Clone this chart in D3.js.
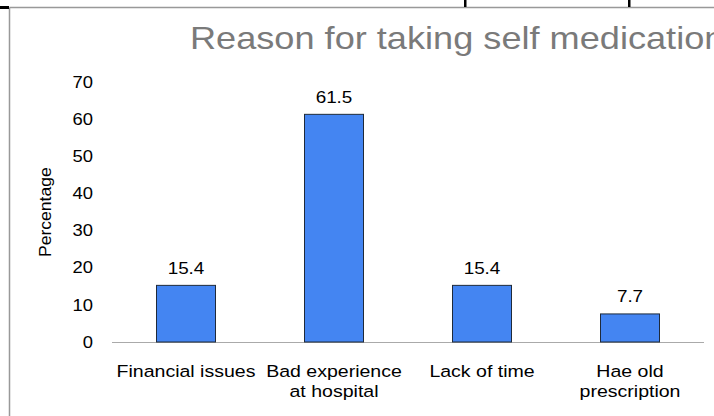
<!DOCTYPE html>
<html>
<head>
<meta charset="utf-8">
<script src="https://cdn.jsdelivr.net/npm/d3@7"></script>
<style>
  html, body { margin: 0; padding: 0; background: #fff; }
  svg { display: block; font-family: "Liberation Sans", Arial, sans-serif; }
</style>
</head>
<body>
<svg id="chart" width="714" height="416"></svg>
<script>
// Reasons given for self medication, percentage of respondents
const categories = ["Financial issues", "Bad experience|at hospital", "Lack of time", "Hae old|prescription"];
const values = [15.4, 61.5, 15.4, 7.7];
const yTicks = [0, 10, 20, 30, 40, 50, 60, 70];

const svg = d3.select("#chart");
const W = 714, H = 416;
const plot = { left: 112, right: 704, top: 82.3, bottom: 342 };
const SX = 1.15; // wide letterforms

// Text placed at (x, y) with its glyphs widened horizontally
function wideText(parent, x, y, str, size, anchor, fill, sx) {
  return parent.append("text")
    .attr("transform", `translate(${x},${y}) scale(${sx || SX},1)`)
    .attr("text-anchor", anchor).attr("font-size", size).attr("fill", fill || "#000")
    .text(str);
}

// Frame lines
svg.append("line").attr("x1", 9.5).attr("x2", W).attr("y1", 7.5).attr("y2", 7.5)
  .attr("stroke", "#999").attr("stroke-width", 1.5);
svg.append("line").attr("x1", 9.5).attr("x2", 9.5).attr("y1", 7.5).attr("y2", H)
  .attr("stroke", "#999").attr("stroke-width", 1.5);
svg.append("rect").attr("x", 0).attr("y", 6).attr("width", 9).attr("height", 3).attr("fill", "#000");
[465, 629].forEach(x => {
  svg.append("rect").attr("x", x - 1).attr("y", 0).attr("width", 2.5).attr("height", 7).attr("fill", "#000");
});

// Title
wideText(svg, 190, 49, "Reason for taking self medication", 32, "start", "#7a7a7a", 1.13);

const x = d3.scaleBand().domain(categories).range([plot.left, plot.right]).paddingInner(0).paddingOuter(0);
const y = d3.scaleLinear().domain([0, 70]).range([plot.bottom, plot.top]);

// Y axis labels (no axis line)
const yAxis = svg.append("g").attr("transform", `translate(${plot.left},0)`)
  .call(d3.axisLeft(y).tickValues(yTicks).tickSize(0).tickPadding(19));
yAxis.select(".domain").remove();
yAxis.selectAll("text")
  .attr("font-size", 16).attr("fill", "#000")
  .attr("font-family", "'Liberation Sans', Arial, sans-serif")
  .attr("transform", function () {
    const tx = +d3.select(this).attr("x");
    return `translate(${tx},0) scale(1.15,1)`;
  })
  .attr("x", 0);

// Baseline
svg.append("line").attr("x1", plot.left).attr("x2", plot.right)
  .attr("y1", y(0) + 0.5).attr("y2", y(0) + 0.5)
  .attr("stroke", "#aaa").attr("stroke-width", 1);

// Bars
const barW = 60;
svg.append("g").selectAll("rect").data(values).join("rect")
  .attr("x", (d, i) => x(categories[i]) + x.bandwidth() / 2 - barW / 2 + 0.5)
  .attr("y", d => y(d) + 0.5)
  .attr("width", barW - 1)
  .attr("height", d => y(0) - y(d) - 0.5)
  .attr("fill", "#4485f2")
  .attr("stroke", "#1f2a3a").attr("stroke-width", 1);

// Value labels
const vl = svg.append("g");
values.forEach((v, i) => {
  wideText(vl, x(categories[i]) + x.bandwidth() / 2, y(v) - 11, v, 16, "middle", "#000", 1.18);
});

// Category labels
const xl = svg.append("g");
categories.forEach(c => {
  c.split("|").forEach((l, i) => {
    wideText(xl, x(c) + x.bandwidth() / 2, 377 + i * 20, l, 17, "middle");
  });
});

// Y axis title
svg.append("text")
  .attr("transform", `translate(51,${(plot.top + plot.bottom) / 2}) rotate(-90) scale(1.1,1)`)
  .attr("text-anchor", "middle").attr("font-size", 16).attr("fill", "#000")
  .text("Percentage");
</script>
</body>
</html>
